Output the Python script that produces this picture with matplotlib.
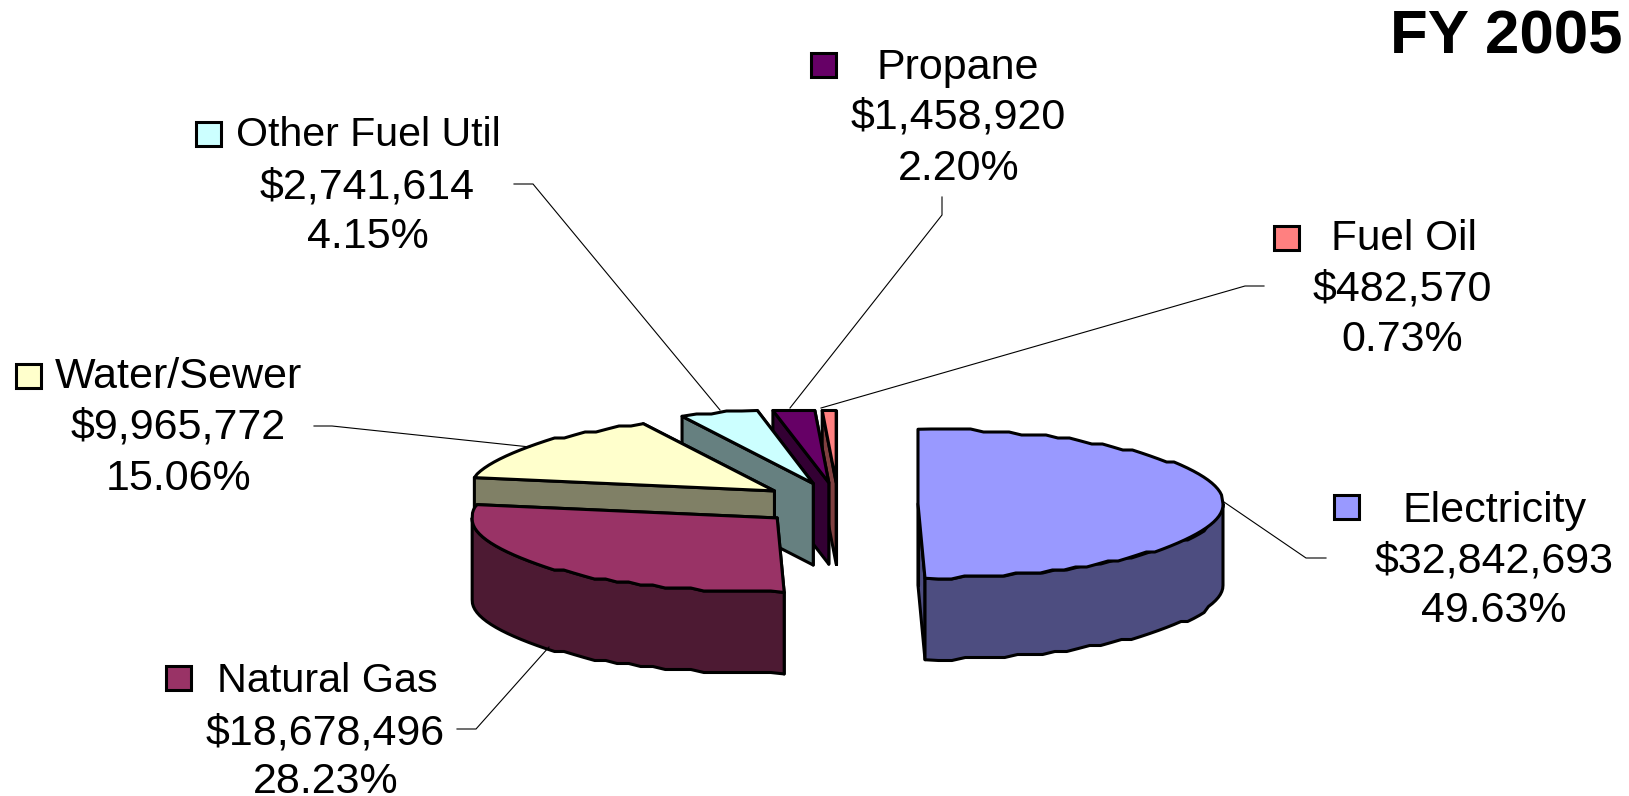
import numpy as np
import matplotlib
matplotlib.use("Agg")
import matplotlib.pyplot as plt
from matplotlib.patches import Polygon, Rectangle

plt.rcParams['font.family'] = ['Liberation Sans', 'DejaVu Sans']

# ---- data ----
categories = ["Electricity", "Natural Gas", "Water/Sewer", "Other Fuel Util", "Propane", "Fuel Oil"]
amounts = [32842693, 18678496, 9965772, 2741614, 1458920, 482570]
percents = [49.63, 28.23, 15.06, 4.15, 2.20, 0.73]
title = "FY 2005"

# ---- style ----
top_colors = ["#9999FF", "#993366", "#FFFFCC", "#CCFFFF", "#660066", "#FF8080"]
side_colors = ["#4D4D80", "#4D1A33", "#808066", "#668080", "#330033", "#804040"]
EDGE_LW = 2.2
FONT = 31
name_fonts = [31, 29.8, 31, 29.6, 31, 30.4]

# ---- layout (pixels) ----
W, H = 1629, 796
CX, CY = 838, 504      # pie centre
RX, RY = 305, 74.5     # ellipse radii
EXPL_X, EXPL_Y = 80, 21.5
DEPTH = 81.5
TOP_LIMIT = 410.5      # flat cut of the outline at the very top
STEP_Y = 3.0           # outline vertex rounding, as in the coarse original
DRAW_ORDER = [5, 4, 3, 2, 1, 0]  # back to front

label_layout = [
    dict(key=(1334, 495), name=(1403, 522), cx=1494, base=(572, 622)),
    dict(key=(166, 666), name=(217, 692), cx=325.5, base=(744, 793)),
    dict(key=(16, 364), name=(55, 388), cx=178.5, base=(439, 490)),
    dict(key=(196, 122), name=(236, 146), cx=367.5, base=(198, 248)),
    dict(key=(811, 53), name=(877, 79), cx=958.5, base=(129, 180)),
    dict(key=(1274, 226), name=(1331, 250), cx=1402, base=(301, 351)),
]
leaders = [
    [(1224, 502), (1306, 558), (1326, 558)],
    [(549, 647), (476, 729), (457, 729)],
    [(530, 447), (332, 426), (314, 426)],
    [(720, 410), (533, 184), (514, 184)],
    [(790, 408), (942, 215), (942, 197)],
    [(821, 408), (1245, 286), (1264, 286)],
]

fig = plt.figure(figsize=(W / 100, H / 100), dpi=100)
ax = fig.add_axes([0, 0, 1, 1])
ax.set_xlim(0, W)
ax.set_ylim(H, 0)
ax.axis("off")

total = sum(amounts)
fractions = np.array(amounts) / total
edges = np.concatenate([[0], np.cumsum(fractions)]) * 2 * np.pi  # clockwise from 12 o'clock


def add_poly(pts, color):
    ax.add_patch(Polygon(pts, closed=True, facecolor=color, edgecolor="black",
                         linewidth=EDGE_LW, joinstyle="round"))


def arc(ax0, ay0, t0, t1):
    n = max(3, int(abs(t1 - t0) * RX / 13))
    t = np.linspace(t0, t1, n)
    x = ax0 + RX * np.sin(t)
    y = ay0 - RY * np.cos(t)
    y[1:-1] = np.round(y[1:-1] / STEP_Y) * STEP_Y
    return x, np.maximum(y, TOP_LIMIT)


for i in DRAW_ORDER:
    a0, a1 = edges[i], edges[i + 1]
    mid = (a0 + a1) / 2
    ax0 = CX + EXPL_X * np.sin(mid)
    ay0 = CY - EXPL_Y * np.cos(mid)
    xs, ys = arc(ax0, ay0, a0, a1)
    apex = (ax0, ay0)

    # radial faces: far one first
    for k in (-1, 0):
        p = (xs[k], ys[k])
        add_poly([apex, p, (p[0], p[1] + DEPTH), (apex[0], apex[1] + DEPTH)], side_colors[i])

    # curved wall, front half only
    lo, hi = max(a0, np.pi / 2), min(a1, 3 * np.pi / 2)
    if hi > lo:
        wx, wy = arc(ax0, ay0, lo, hi)
        add_poly(list(zip(wx, wy)) + list(zip(wx[::-1], wy[::-1] + DEPTH)), side_colors[i])

    # top face
    add_poly([apex] + list(zip(xs, ys)), top_colors[i])

# labels
for i, name in enumerate(categories):
    lay = label_layout[i]
    ax.add_patch(Rectangle(lay["key"], 25, 24, facecolor=top_colors[i], edgecolor="black",
                           linewidth=EDGE_LW))
    ax.text(lay["name"][0], lay["name"][1], name, fontsize=name_fonts[i], ha="left", va="baseline")
    ax.text(lay["cx"], lay["base"][0], f"${amounts[i]:,}", fontsize=FONT, ha="center", va="baseline")
    ax.text(lay["cx"], lay["base"][1], f"{percents[i]:.2f}%", fontsize=FONT, ha="center", va="baseline")
    lx, ly = zip(*leaders[i])
    ax.plot(lx, ly, color="black", lw=0.8, solid_joinstyle="miter")

ax.text(1623, 53, title, fontsize=44.5, fontweight="bold", ha="right", va="baseline")

fig.savefig("out.png", dpi=100, facecolor="white")
